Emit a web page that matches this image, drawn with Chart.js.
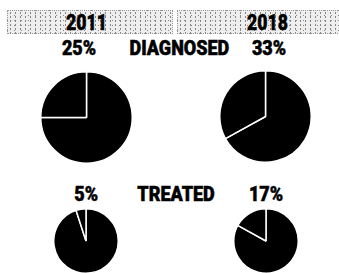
<!DOCTYPE html>
<html>
<head>
<meta charset="utf-8">
<script src="https://cdn.jsdelivr.net/npm/chart.js@4/dist/chart.umd.min.js"></script>
<style>
  body { margin: 0; background: #fff; }
  #wrap { position: relative; width: 339px; height: 273px; overflow: hidden; font-family: Roboto, "Liberation Sans", sans-serif; font-weight: 900; color: #000; }
  .box { position: absolute; top: 10px; height: 24px; box-sizing: border-box;
         background-color: #eeeeee;
         background-image: radial-gradient(#555 0.5px, transparent 0.9px), radial-gradient(#888 0.5px, transparent 0.9px);
         background-size: 5px 4px, 7px 5px; background-position: 0 0, 3px 2px;
         border: 1px dotted #999; }
  .t { position: absolute; text-align: center; white-space: nowrap; line-height: 1; -webkit-text-stroke: 0.5px #000; }
  .t span { display: inline-block; transform-origin: center; }
  .hd span { transform: scaleX(0.8); }
  .lb span { transform: scaleX(0.9); }
  .pie { position: absolute; }
</style>
</head>
<body>
<div id="wrap">
  <div class="box" style="left:7px;width:166px"></div>
  <div class="box" style="left:177px;width:165px"></div>
  <div class="t hd" style="left:37px;width:100px;top:12px;font-size:22px"><span id="y0"></span></div>
  <div class="t hd" style="left:218px;width:100px;top:12px;font-size:22px"><span id="y1"></span></div>

  <div class="t lb" style="left:39px;width:80px;top:38px;font-size:20px"><span id="d0"></span></div>
  <div class="t lb" style="left:119px;width:120px;top:38px;font-size:20px"><span id="dl"></span></div>
  <div class="t lb" style="left:229px;width:80px;top:38px;font-size:20px"><span id="d1"></span></div>

  <div class="t lb" style="left:46px;width:80px;top:184px;font-size:20px"><span id="t0"></span></div>
  <div class="t lb" style="left:116px;width:120px;top:184px;font-size:20px"><span id="tl"></span></div>
  <div class="t lb" style="left:226px;width:80px;top:184px;font-size:20px"><span id="t1"></span></div>

  <div class="pie" style="left:40px;top:71px;width:93px;height:93px"><canvas id="p0"></canvas></div>
  <div class="pie" style="left:219px;top:70px;width:93px;height:93px"><canvas id="p1"></canvas></div>
  <div class="pie" style="left:53px;top:208px;width:66px;height:66px"><canvas id="p2"></canvas></div>
  <div class="pie" style="left:233px;top:208px;width:66px;height:66px"><canvas id="p3"></canvas></div>
</div>
<script>
// dữ liệu
const years = ['2011', '2018'];
const groups = ['DIAGNOSED', 'TREATED'];
const diagnosed = [25, 33];
const treated = [5, 17];

document.getElementById('y0').textContent = years[0];
document.getElementById('y1').textContent = years[1];
document.getElementById('dl').textContent = groups[0];
document.getElementById('tl').textContent = groups[1];
document.getElementById('d0').textContent = diagnosed[0] + '%';
document.getElementById('d1').textContent = diagnosed[1] + '%';
document.getElementById('t0').textContent = treated[0] + '%';
document.getElementById('t1').textContent = treated[1] + '%';

function makePie(id, value) {
    const ctx = document.getElementById(id).getContext('2d');
    return new Chart(ctx, {
        type: 'pie',
        data: {
            labels: ['rest', 'share'],
            datasets: [{
                data: [100 - value, value],
                backgroundColor: ['#000', '#000'],
                borderColor: '#fff',
                borderWidth: 1.5
            }]
        },
        options: {
            responsive: true,
            maintainAspectRatio: false,
            animation: false,
            layout: { padding: 0 },
            plugins: { legend: { display: false }, tooltip: { enabled: false } }
        }
    });
}

makePie('p0', diagnosed[0]);
makePie('p1', diagnosed[1]);
makePie('p2', treated[0]);
makePie('p3', treated[1]);
</script>
</body>
</html>
